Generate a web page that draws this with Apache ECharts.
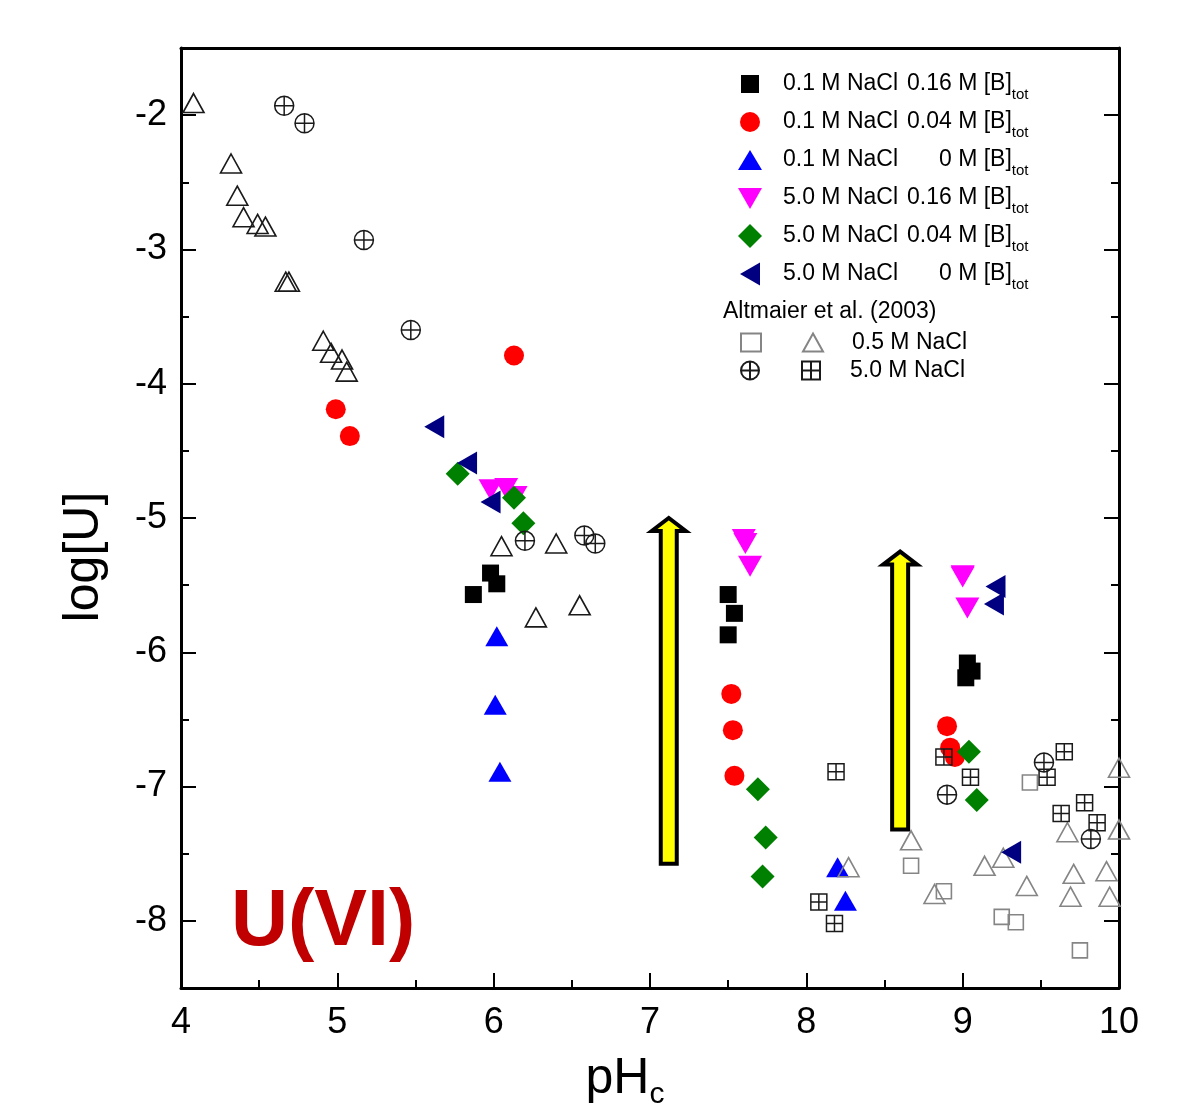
<!DOCTYPE html>
<html>
<head>
<meta charset="utf-8">
<title>U(VI) solubility</title>
<script src="https://cdn.jsdelivr.net/npm/echarts@6/dist/echarts.min.js"></script>
<style>
  html, body { margin: 0; padding: 0; background: #fff; }
  #chart { width: 1203px; height: 1116px; }
</style>
</head>
<body>
<div id="chart"></div>
<script>
// U(VI) concentration (log[U]) versus pHc in NaCl solutions with and without borate

// axis ticks
const xTicks = [4, 5, 6, 7, 8, 9, 10];
const xHalfTicks = [4.5, 5.5, 6.5, 7.5, 8.5, 9.5];
const yTicks = [-8, -7, -6, -5, -4, -3, -2];
const yHalfTicks = [-7.5, -6.5, -5.5, -4.5, -3.5, -2.5];
const xRange = [4, 10];
const yRange = [-8.5, -1.5];

// this work: [pHc, log[U]]
const na01B016 = [[5.87, -5.57], [5.98, -5.41], [6.02, -5.49], [7.50, -5.57], [7.54, -5.71], [7.50, -5.87], [9.03, -6.08], [9.06, -6.14], [9.02, -6.19]];
const na01B004 = [[4.99, -4.19], [5.08, -4.39], [6.13, -3.79], [7.52, -6.31], [7.53, -6.58], [7.54, -6.92], [8.90, -6.55], [8.92, -6.71], [8.95, -6.78]];
const na01B0 = [[6.02, -5.88], [6.01, -6.39], [6.04, -6.89], [8.20, -7.60], [8.25, -7.85], [8.27, -8.54]];
const na5B016 = [[5.98, -4.79], [6.08, -4.78], [6.14, -4.84], [7.60, -5.16], [7.61, -5.19], [7.64, -5.36], [9.00, -5.43], [9.00, -5.44], [9.03, -5.67]];
const na5B004 = [[5.77, -4.67], [6.13, -4.85], [6.19, -5.04], [7.69, -7.02], [7.74, -7.38], [7.72, -7.67], [9.04, -6.74], [9.09, -7.10]];
const na5B0 = [[5.62, -4.32], [5.83, -4.59], [5.98, -4.88], [9.21, -5.51], [9.20, -5.64], [9.31, -7.49]];

// Altmaier et al. (2003): [pHc, log[U]]
const alt05TriAcid = [[4.08, -1.91], [4.32, -2.36], [4.36, -2.60], [4.40, -2.76], [4.49, -2.81], [4.54, -2.83], [4.67, -3.24], [4.69, -3.24],
  [4.91, -3.68], [4.96, -3.77], [5.03, -3.82], [5.06, -3.91], [6.05, -5.21], [6.40, -5.19], [6.27, -5.74], [6.55, -5.65]];
const alt05Tri = [[8.27, -7.60], [8.67, -7.40], [8.82, -7.80], [9.14, -7.59], [9.26, -7.53], [9.41, -7.74], [9.67, -7.34], [9.71, -7.65],
  [9.69, -7.82], [9.92, -7.63], [9.94, -7.82], [10.0, -6.86], [10.0, -7.32]];
const alt05Sq = [[8.67, -7.59], [8.88, -7.78], [9.43, -6.97], [9.25, -7.97], [9.34, -8.01], [9.75, -8.22]];
const alt5Circ = [[4.66, -1.93], [4.79, -2.06], [5.17, -2.93], [5.47, -3.60], [6.20, -5.17], [6.58, -5.13], [6.65, -5.19],
  [8.90, -7.06], [9.52, -6.82], [9.82, -7.39]];
const alt5Sq = [[8.19, -6.89], [8.08, -7.86], [8.18, -8.02], [8.88, -6.78], [9.05, -6.93], [9.65, -6.74], [9.54, -6.93],
  [9.78, -7.12], [9.63, -7.20], [9.86, -7.27]];

// arrows: [pHc, log[U] at tail, log[U] at head]
const arrowData = [[7.12, -7.575, -5.0], [8.60, -7.32, -5.25]];

// legend text parts
const legendSalt = ['0.1 M NaCl', '0.1 M NaCl', '0.1 M NaCl', '5.0 M NaCl', '5.0 M NaCl', '5.0 M NaCl'];
const legendBoron = ['0.16 M', '0.04 M', '0 M', '0.16 M', '0.04 M', '0 M'];
const mainNames = legendSalt.map((s, i) => s + ' ' + legendBoron[i] + ' [B]tot');
const altNames = ['Altmaier 0.5 M NaCl square', 'Altmaier 0.5 M NaCl triangle', 'Altmaier 5.0 M NaCl circle', 'Altmaier 5.0 M NaCl square', 'Altmaier 0.5 M NaCl triangle acidic'];

const FONT = "'Liberation Sans', Arial, Helvetica, sans-serif";
const GRAY = '#858585';

// marker shapes
const SYM_DOWN = 'path://M0,0 L24,0 L12,21 Z';
const SYM_LEFT = 'path://M20,0 L20,23 L0,11.5 Z';
const SYM_CIRC_PLUS = 'path://M0.5,10 A9.5,9.5 0 1 1 19.5,10 A9.5,9.5 0 1 1 0.5,10 Z M10,0.5 L10,19.5 M0.5,10 L19.5,10';
const SYM_SQ_PLUS = 'path://M0,0 L20,0 L20,20 L0,20 Z M10,0 L10,20 M0,10 L20,10';

// legend icons inside a 24x24 box (the leading moves fix the box extent)
const ICONS = [
  'path://M0,0 M24,24 M3,3 L21,3 L21,21 L3,21 Z',
  'path://M0,0 M24,24 M2,12 A10,10 0 1 1 22,12 A10,10 0 1 1 2,12 Z',
  'path://M0,0 M24,24 M0,22 L12,2 L24,22 Z',
  'path://M0,0 M24,24 M0,2 L24,2 L12,23 Z',
  'path://M0,0 M24,24 M12,0 L24,12 L12,24 L0,12 Z',
  'path://M0,0 M24,24 M22,0.5 L22,23.5 L2,12 Z'
];

const chart = echarts.init(document.getElementById('chart'), null, { renderer: 'canvas' });

function filled(name, data, symbol, size, color, z) {
  return {
    name, type: 'scatter', data, symbol, symbolSize: size, symbolKeepAspect: false,
    itemStyle: { color, opacity: 1 }, z: z || 2, clip: true,
    emphasis: { disabled: true }
  };
}
function open(name, data, symbol, size, color, width) {
  return {
    name, type: 'scatter', data, symbol, symbolSize: size,
    itemStyle: { color: 'rgba(0,0,0,0)', borderColor: color, borderWidth: width, opacity: 1 },
    z: 3, clip: true, emphasis: { disabled: true }
  };
}

function renderArrow(params, api) {
  const tail = api.coord([api.value(0), api.value(1)]);
  const tip = api.coord([api.value(0), api.value(2)]);
  const cx = tail[0];
  const shaft = 8, head = 17, headLen = 13;
  const yb = tail[1], yt = tip[1], yh = yt + headLen;
  return {
    type: 'polygon',
    shape: { points: [[cx - shaft, yb], [cx - shaft, yh], [cx - head, yh], [cx, yt], [cx + head, yh], [cx + shaft, yh], [cx + shaft, yb]] },
    style: { fill: '#ffff00', stroke: '#000', lineWidth: 4, lineJoin: 'miter' }
  };
}

const axisLine = { show: true, onZero: false, lineStyle: { color: '#000', width: 3 } };
const labelStyle = { color: '#000', fontSize: 36, fontFamily: FONT };

const option = {
  backgroundColor: '#fff',
  animation: false,
  textStyle: { fontFamily: FONT },
  grid: { left: 181, right: 84, top: 48, bottom: 128, containLabel: false, outerBoundsMode: 'none' },
  xAxis: [
    {
      type: 'value', min: xRange[0], max: xRange[1], position: 'bottom',
      axisLine,
      axisTick: { show: true, inside: true, length: 15, customValues: xTicks, lineStyle: { color: '#000', width: 2 } },
      axisLabel: { show: true, customValues: xTicks, margin: 17, ...labelStyle },
      splitLine: { show: false },
      name: '{m|pH}{s|c}', nameLocation: 'middle', nameGap: 66,
      nameTextStyle: {
        color: '#000', fontFamily: FONT, padding: [0, 50, 0, 0],
        rich: {
          m: { fontSize: 50, lineHeight: 56, verticalAlign: 'top', fontFamily: FONT, color: '#000' },
          s: { fontSize: 30, lineHeight: 14, verticalAlign: 'bottom', fontFamily: FONT, color: '#000' }
        }
      }
    },
    {
      type: 'value', min: xRange[0], max: xRange[1], position: 'bottom',
      axisLine: { show: false },
      axisTick: { show: true, inside: true, length: 8, customValues: xHalfTicks, lineStyle: { color: '#000', width: 2 } },
      axisLabel: { show: false }, splitLine: { show: false }
    },
    {
      type: 'value', min: xRange[0], max: xRange[1], position: 'top',
      axisLine, axisTick: { show: false }, axisLabel: { show: false }, splitLine: { show: false }
    }
  ],
  yAxis: [
    {
      type: 'value', min: yRange[0], max: yRange[1], position: 'left',
      axisLine,
      axisTick: { show: true, inside: true, length: 15, customValues: yTicks, lineStyle: { color: '#000', width: 2 } },
      axisLabel: { show: true, customValues: yTicks, margin: 14, ...labelStyle },
      splitLine: { show: false },
      name: 'log[U]', nameLocation: 'middle', nameGap: 72,
      nameTextStyle: { color: '#000', fontSize: 50, fontFamily: FONT, padding: [0, 78, 0, 0] }
    },
    {
      type: 'value', min: yRange[0], max: yRange[1], position: 'left',
      axisLine: { show: false },
      axisTick: { show: true, inside: true, length: 8, customValues: yHalfTicks, lineStyle: { color: '#000', width: 2 } },
      axisLabel: { show: false }, splitLine: { show: false }
    },
    {
      type: 'value', min: yRange[0], max: yRange[1], position: 'right',
      axisLine,
      axisTick: { show: true, inside: true, length: 15, customValues: yTicks, lineStyle: { color: '#000', width: 2 } },
      axisLabel: { show: false }, splitLine: { show: false }
    },
    {
      type: 'value', min: yRange[0], max: yRange[1], position: 'right',
      axisLine: { show: false },
      axisTick: { show: true, inside: true, length: 8, customValues: yHalfTicks, lineStyle: { color: '#000', width: 2 } },
      axisLabel: { show: false }, splitLine: { show: false }
    }
  ],
  legend: [
    {
      data: mainNames.map((name, i) => ({ name, icon: ICONS[i] })),
      orient: 'vertical', left: 738, top: 72, padding: 0,
      itemWidth: 24, itemHeight: 24, itemGap: 8, symbolKeepAspect: true,
      selectedMode: false,
      formatter: (name) => {
        const i = mainNames.indexOf(name);
        const b = legendBoron[i] === '0 M' ? 'bz' : 'b';
        return '{sp| }{a|' + legendSalt[i] + '}{' + b + '|' + legendBoron[i] + '}{c| [B]}{s|tot}';
      },
      textStyle: {
        color: '#000', fontFamily: FONT,
        rich: {
          sp: { width: 16, lineHeight: 36, verticalAlign: 'middle', fontSize: 22 },
          a: { width: 124, fontSize: 23, lineHeight: 24, verticalAlign: 'middle', color: '#000', fontFamily: FONT },
          b: { fontSize: 23, lineHeight: 24, verticalAlign: 'middle', color: '#000', fontFamily: FONT },
          bz: { fontSize: 23, lineHeight: 24, verticalAlign: 'middle', color: '#000', fontFamily: FONT, padding: [0, 0, 0, 32] },
          c: { fontSize: 23, lineHeight: 24, verticalAlign: 'middle', color: '#000', fontFamily: FONT },
          s: { fontSize: 15, lineHeight: 10, verticalAlign: 'bottom', color: '#000', fontFamily: FONT }
        }
      }
    },
    {
      data: [altNames[0], altNames[1]], orient: 'horizontal', left: 740, top: 331, padding: 0,
      itemWidth: 20, itemHeight: 18, itemGap: 0, symbolKeepAspect: true, selectedMode: false,
      formatter: (name) => name === altNames[0] ? '{sp| }' : '{sp2| }{t|0.5 M NaCl}',
      textStyle: {
        color: '#000', fontFamily: FONT,
        rich: {
          sp: { width: 36, fontSize: 22, lineHeight: 24 },
          sp2: { width: 24, fontSize: 22, lineHeight: 24 },
          t: { fontSize: 23, lineHeight: 24, color: '#000', fontFamily: FONT }
        }
      }
    },
    {
      data: [altNames[2], altNames[3]], orient: 'horizontal', left: 740, top: 359, padding: 0,
      itemWidth: 20, itemHeight: 18, itemGap: 0, symbolKeepAspect: true, selectedMode: false,
      formatter: (name) => name === altNames[2] ? '{sp| }' : '{sp2| }{t|5.0 M NaCl}',
      textStyle: {
        color: '#000', fontFamily: FONT,
        rich: {
          sp: { width: 36, fontSize: 22, lineHeight: 24 },
          sp2: { width: 24, fontSize: 22, lineHeight: 24 },
          t: { fontSize: 23, lineHeight: 24, color: '#000', fontFamily: FONT }
        }
      }
    }
  ],
  graphic: [
    {
      type: 'text', left: 723, top: 300, z: 10,
      style: { text: 'Altmaier et al. (2003)', fill: '#000', fontSize: 23, fontFamily: FONT }
    },
    {
      type: 'text', left: 231, top: 884, z: 10,
      style: { text: 'U(VI)', fill: '#c00000', fontSize: 79, fontWeight: 'bold', fontFamily: FONT }
    }
  ],
  series: [
    {
      name: 'arrows', type: 'custom', data: arrowData, renderItem: renderArrow,
      encode: { x: 0, y: [1, 2] }, z: 1, silent: true, clip: false
    },
    filled(mainNames[0], na01B016, 'rect', 17, '#000000'),
    filled(mainNames[1], na01B004, 'circle', 20, '#ff0000'),
    filled(mainNames[2], na01B0, 'triangle', [23, 20], '#0000ff'),
    filled(mainNames[3], na5B016, SYM_DOWN, [24, 21], '#ff00ff'),
    filled(mainNames[4], na5B004, 'diamond', 24, '#008000'),
    filled(mainNames[5], na5B0, SYM_LEFT, [20, 23], '#000080', 4),
    open(altNames[4], alt05TriAcid, 'triangle', [21, 19], '#1a1a1a', 1.6),
    open(altNames[1], alt05Tri, 'triangle', [21, 19], GRAY, 1.6),
    open(altNames[0], alt05Sq, 'rect', 15, GRAY, 1.6),
    open(altNames[2], alt5Circ, SYM_CIRC_PLUS, 19, '#1a1a1a', 1.5),
    open(altNames[3], alt5Sq, SYM_SQ_PLUS, 16, '#1a1a1a', 1.5)
  ]
};

chart.setOption(option);
</script>
</body>
</html>
